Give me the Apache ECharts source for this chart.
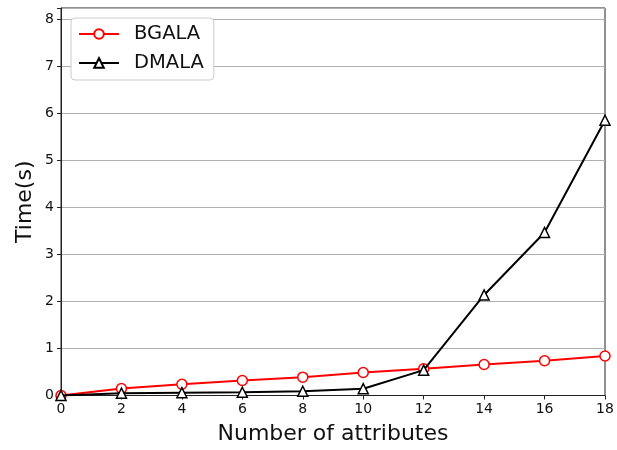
<!DOCTYPE html>
<html><head><meta charset="utf-8">
<script src="https://cdn.jsdelivr.net/npm/echarts@6/dist/echarts.min.js"></script>
<style>html,body{margin:0;padding:0;background:#fff}#c{width:617px;height:450px}</style>
</head><body><div id="c"></div>
<script>
const xValues = [0, 2, 4, 6, 8, 10, 12, 14, 16, 18];
const bgala = [0, 0.15, 0.24, 0.32, 0.39, 0.49, 0.57, 0.66, 0.74, 0.84];
const dmala = [0, 0.05, 0.06, 0.07, 0.09, 0.145, 0.54, 2.14, 3.47, 5.86];
const seriesNames = ['BGALA', 'DMALA'];

const font = 'DejaVu Sans';
const chart = echarts.init(document.getElementById('c'), null, {renderer: 'canvas'});
chart.setOption({
  animation: false,
  backgroundColor: '#fff',
  textStyle: {fontFamily: font},
  grid: {left: 61, right: 12, top: 8, bottom: 54.5, show: true, borderColor: '#222', borderWidth: 1,
    backgroundColor: 'transparent', containLabel: false, outerBoundsMode: 'none'},
  legend: {
    left: 71, top: 18, orient: 'vertical',
    backgroundColor: '#fff', borderColor: '#ccc', borderWidth: 1, borderRadius: 4,
    padding: [6, 10, 7, 7], itemGap: 9, itemWidth: 40, itemHeight: 12,
    textStyle: {fontFamily: font, fontSize: 19.5, color: '#111', padding: [0, 0, 0, 10]},
    data: seriesNames
  },
  xAxis: {
    type: 'value', min: 0, max: 18, interval: 2,
    name: 'Number of attributes', nameLocation: 'middle', nameGap: 28, nameMoveOverlap: false,
    nameTextStyle: {fontFamily: font, fontSize: 22, color: '#111'},
    axisLine: {show: true, lineStyle: {color: '#222'}},
    axisTick: {show: true, length: 4, lineStyle: {color: '#222'}},
    axisLabel: {fontFamily: font, fontSize: 14, color: '#111', margin: 7},
    splitLine: {show: false}
  },
  yAxis: {
    type: 'value', min: 0, max: 8.25, interval: 1,
    name: 'Time(s)', nameLocation: 'middle', nameGap: 25, nameMoveOverlap: false,
    nameTextStyle: {fontFamily: font, fontSize: 22, color: '#111'},
    axisLine: {show: true, lineStyle: {color: '#222'}},
    axisTick: {show: true, length: 4, lineStyle: {color: '#222'}},
    axisLabel: {fontFamily: font, fontSize: 14, color: '#111', margin: 7,
      formatter: v => (Number.isInteger(v) ? String(v) : '')},
    splitLine: {show: true, lineStyle: {color: '#b0b0b0', width: 1}}
  },
  series: [
    {
      name: seriesNames[0], type: 'line',
      data: xValues.map((x, i) => [x, bgala[i]]),
      symbol: 'circle', symbolSize: 10, showAllSymbol: true,
      lineStyle: {color: '#ff0000', width: 2},
      itemStyle: {color: '#fff', borderColor: '#ff0000', borderWidth: 1.5},
      z: 3
    },
    {
      name: seriesNames[1], type: 'line',
      data: xValues.map((x, i) => [x, dmala[i]]),
      symbol: 'triangle', symbolSize: 10, showAllSymbol: true,
      lineStyle: {color: '#000', width: 2},
      itemStyle: {color: '#fff', borderColor: '#000', borderWidth: 1.5},
      z: 4
    }
  ]
});
</script></body></html>
